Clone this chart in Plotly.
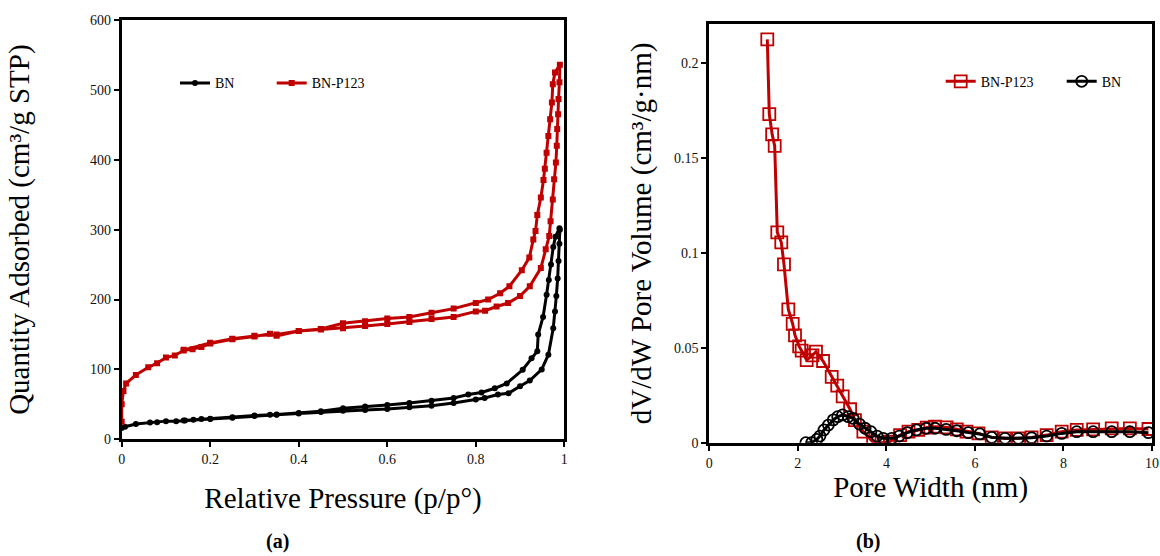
import plotly.graph_objects as go

# ---------------- (a) N2 isotherms ----------------
bn_p = [0, 0.0075, 0.032, 0.064, 0.08, 0.10, 0.123, 0.143, 0.162, 0.18, 0.20, 0.25, 0.30, 0.335, 0.35,
        0.40, 0.45, 0.50, 0.55, 0.60, 0.65, 0.70, 0.75, 0.80, 0.82, 0.85, 0.874, 0.90, 0.922, 0.949,
        0.964, 0.975, 0.979, 0.982, 0.985, 0.987, 0.989, 0.99,
        0.989, 0.98, 0.975, 0.97, 0.965, 0.96, 0.952, 0.941, 0.939, 0.926, 0.906, 0.87, 0.843, 0.813,
        0.783, 0.75, 0.70, 0.65, 0.60, 0.55, 0.50, 0.45, 0.40, 0.35, 0.30, 0.25, 0.20, 0.14]
bn_v = [16, 18, 22, 24, 24.4, 26, 26, 27, 28, 29, 29, 31, 33.5, 35, 35,
        37, 39, 40.7, 42, 43.5, 46, 48, 52, 57, 59, 64, 66, 76, 84, 100,
        121, 159, 183, 205, 230, 255, 280, 300,
        302, 290, 275, 250, 228, 207, 175, 150, 126, 116, 99.5, 80, 73, 67,
        64, 59, 55, 52, 49, 47, 44.5, 40, 37.5, 35.5, 34, 31.5, 29.5, 27]

p123_p = [0, 0, 0.004, 0.01, 0.032, 0.06, 0.08, 0.10, 0.12, 0.14, 0.16, 0.18, 0.20, 0.25, 0.30, 0.335,
          0.35, 0.40, 0.45, 0.50, 0.55, 0.60, 0.65, 0.70, 0.75, 0.80, 0.821, 0.847, 0.873, 0.90, 0.922,
          0.947, 0.958, 0.966, 0.969, 0.974, 0.977, 0.981, 0.983, 0.984, 0.986, 0.987, 0.989, 0.99,
          0.979, 0.974, 0.972, 0.968, 0.964, 0.960, 0.956, 0.953, 0.947, 0.939, 0.935, 0.930, 0.921,
          0.904, 0.876, 0.855, 0.828, 0.80, 0.75, 0.70, 0.65, 0.60, 0.55, 0.50, 0.45, 0.40, 0.35,
          0.30, 0.25, 0.20, 0.14]
p123_v = [25, 50, 69, 80, 92, 103, 109, 117, 120, 127, 129, 132, 137, 143, 147, 151,
          148, 155, 157, 159, 162, 165, 168, 172, 175, 183, 184, 190, 195, 205, 219,
          245, 272, 291, 312, 343, 372, 396, 420, 444, 465, 487, 511, 536,
          525, 508, 482, 458, 434, 410, 387, 371, 346, 321, 298, 286, 260,
          242, 219, 209, 200, 195, 187, 181, 175, 173, 169, 166, 158, 155, 150,
          148, 144, 138, 128]

# ---------------- (b) pore size distributions ----------------
psd_p123_w = [1.31, 1.355, 1.42, 1.477, 1.536, 1.626, 1.687, 1.785, 1.884, 1.936, 2.03, 2.087, 2.2,
              2.33, 2.41, 2.57, 2.765, 2.89, 3.013, 3.18, 3.29, 3.48, 3.70, 3.89, 4.08, 4.31, 4.5,
              4.72, 4.91, 5.1, 5.36, 5.59, 5.81, 6.08, 6.38, 6.68, 6.98, 7.28, 7.62, 7.96, 8.3,
              8.67, 9.09, 9.5, 9.92]
psd_p123_v = [0.2123, 0.173, 0.1623, 0.1562, 0.1107, 0.1055, 0.0939, 0.0702, 0.0625, 0.0565, 0.0507,
              0.0485, 0.0435, 0.046, 0.0479, 0.043, 0.0347, 0.0300, 0.0244, 0.0176, 0.0119, 0.0058,
              0.0003, 0.0, 0.0005, 0.004, 0.0058, 0.0067, 0.0079, 0.0084, 0.0081, 0.007, 0.0058,
              0.0049, 0.0028, 0.0023, 0.0023, 0.0028, 0.004, 0.0058, 0.0067, 0.007, 0.0075, 0.0075,
              0.0072]

psd_bn_w = [2.18, 2.31, 2.43, 2.5, 2.59, 2.69, 2.8, 2.9, 3.01, 3.14, 3.25, 3.39, 3.52, 3.65, 3.79,
            3.93, 4.12, 4.29, 4.47, 4.68, 4.9, 5.1, 5.35, 5.59, 5.85, 6.11, 6.38, 6.68, 6.98, 7.28,
            7.62, 7.96, 8.3, 8.67, 9.09, 9.5, 9.92]
psd_bn_v = [0.0, 0.0, 0.0018, 0.0035, 0.0067, 0.0093, 0.012, 0.0137, 0.0146, 0.0137, 0.0128, 0.0098,
            0.0076, 0.0058, 0.0035, 0.0023, 0.0023, 0.0035, 0.0053, 0.0067, 0.0076, 0.0076, 0.007,
            0.0063, 0.0053, 0.0046, 0.0028, 0.0023, 0.0023, 0.0026, 0.0035, 0.0049, 0.0058, 0.0058,
            0.0058, 0.0058, 0.0053]

iso_ticks = [0, 0.2, 0.4, 0.6, 0.8, 1]
iso_ticktext = ["0", "0.2", "0.4", "0.6", "0.8", "1"]
iso_yticks = [0, 100, 200, 300, 400, 500, 600]
psd_xticks = [0, 2, 4, 6, 8, 10]
psd_yticks = [0, 0.05, 0.1, 0.15, 0.2]
psd_yticktext = ["0", "0.05", "0.1", "0.15", "0.2"]

RED = "#C00000"
BLACK = "#000000"
FONT = "Liberation Serif"

W, H = 1160, 556


def fx(px):
    return px / W


def fy(py):
    return 1 - py / H


fig = go.Figure()

fig.add_trace(go.Scatter(x=bn_p, y=bn_v, name="BN", mode="lines+markers",
                         line=dict(color=BLACK, width=3),
                         marker=dict(symbol="circle", size=6, color=BLACK),
                         xaxis="x", yaxis="y", legend="legend"))
fig.add_trace(go.Scatter(x=p123_p, y=p123_v, name="BN-P123", mode="lines+markers",
                         line=dict(color=RED, width=3),
                         marker=dict(symbol="square", size=6, color=RED),
                         xaxis="x", yaxis="y", legend="legend2"))

fig.add_trace(go.Scatter(x=psd_p123_w, y=psd_p123_v, name="BN-P123", mode="lines+markers",
                         line=dict(color=RED, width=3),
                         marker=dict(symbol="square-open", size=12, color=RED, line=dict(width=1.8)),
                         xaxis="x2", yaxis="y2", legend="legend3"))
fig.add_trace(go.Scatter(x=psd_bn_w, y=psd_bn_v, name="BN", mode="lines+markers",
                         line=dict(color=BLACK, width=3),
                         marker=dict(symbol="circle-open", size=11, color=BLACK, line=dict(width=1.8)),
                         xaxis="x2", yaxis="y2", legend="legend4"))

axis_common = dict(showline=True, linecolor="black", linewidth=3, mirror=True,
                   ticks="outside", ticklen=5, tickwidth=2, tickcolor="black",
                   showgrid=False, zeroline=False, automargin=False,
                   tickfont=dict(family=FONT, size=14, color="#111"))

TITLE_SIZE = 29


def legend_at(text_x, text_y):
    # legend text starts ~40px right of the legend's left edge
    return dict(x=fx(text_x - 40), y=fy(text_y), xanchor="left", yanchor="middle",
                orientation="h", font=dict(family=FONT, size=14), bgcolor="rgba(0,0,0,0)")


fig.update_layout(
    width=W, height=H,
    margin=dict(l=0, r=0, t=0, b=0),
    paper_bgcolor="white", plot_bgcolor="white",
    font=dict(family=FONT, color="black"),
    xaxis=dict(domain=[fx(121.7), fx(564.3)], range=[0, 1], tickvals=iso_ticks, ticktext=iso_ticktext,
               anchor="y",
               title=dict(text="Relative Pressure (p/p°)", font=dict(family=FONT, size=TITLE_SIZE), standoff=22),
               **axis_common),
    yaxis=dict(domain=[fy(439.3), fy(20)], range=[0, 600], tickvals=iso_yticks, anchor="x",
               title=dict(text="Quantity Adsorbed (cm³/g STP)", font=dict(family=FONT, size=TITLE_SIZE), standoff=52),
               **axis_common),
    xaxis2=dict(domain=[fx(709.3), fx(1152)], range=[0, 10], tickvals=psd_xticks, anchor="y2",
                title=dict(text="Pore Width (nm)", font=dict(family=FONT, size=TITLE_SIZE), standoff=8),
                **axis_common),
    yaxis2=dict(domain=[fy(442.7), fy(24)], range=[0, 0.2204], tickvals=psd_yticks,
                ticktext=psd_yticktext, anchor="x2",
                title=dict(text="dV/dW Pore Volume (cm³/g·nm)", font=dict(family=FONT, size=TITLE_SIZE), standoff=14),
                **axis_common),
    legend=legend_at(215, 83.3),
    legend2=legend_at(311.7, 83.3),
    legend3=legend_at(980.7, 81.7),
    legend4=legend_at(1101.7, 81.7),
    showlegend=True,
    annotations=[
        dict(text="<b>(a)</b>", x=fx(277), y=fy(541), xref="paper", yref="paper", showarrow=False,
             xanchor="center", yanchor="middle", font=dict(family=FONT, size=20)),
        dict(text="<b>(b)</b>", x=fx(868), y=fy(541), xref="paper", yref="paper", showarrow=False,
             xanchor="center", yanchor="middle", font=dict(family=FONT, size=20)),
    ],
)

# remove the browser's default 8px body margin so the figure fills the window exactly
fig.write_html("out.html", config={"displayModeBar": False},
               post_script="document.body.style.margin='0';document.body.style.overflow='hidden';")
